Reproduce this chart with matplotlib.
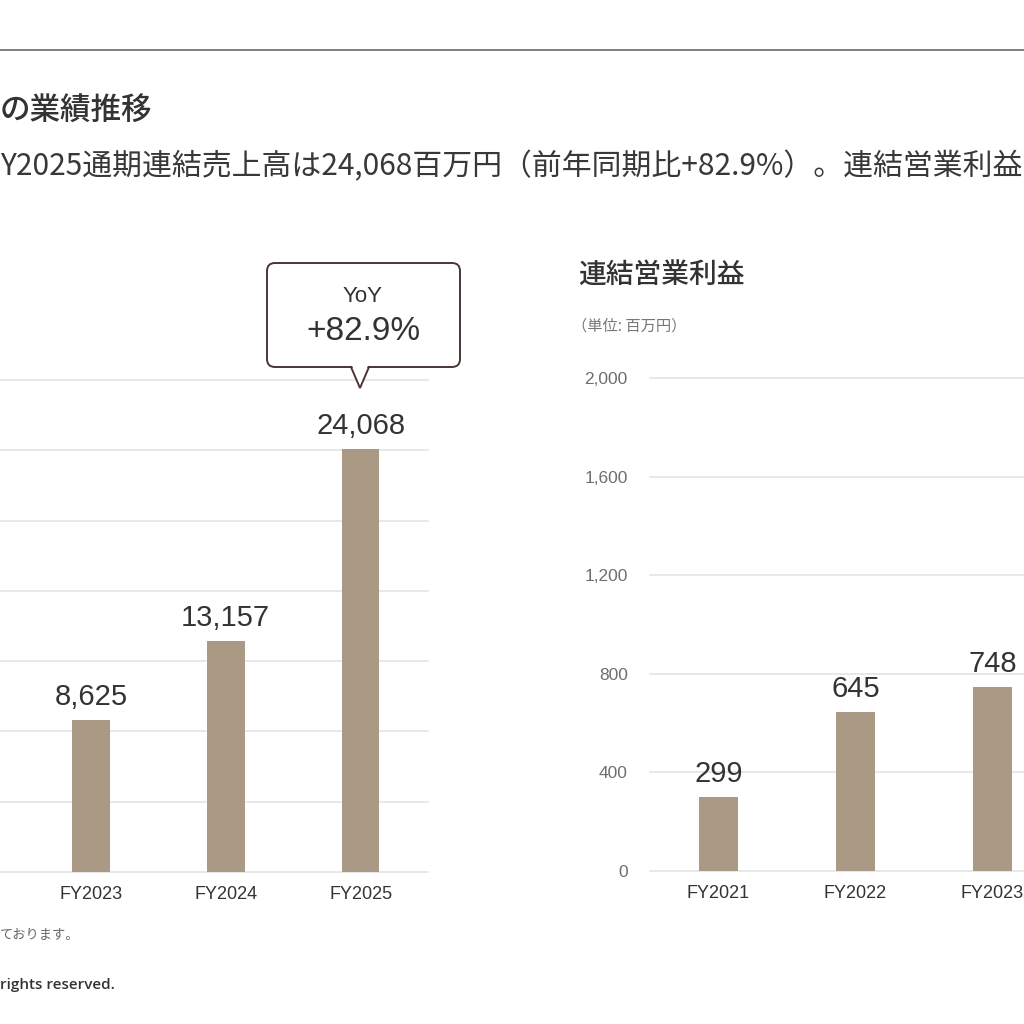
import matplotlib
matplotlib.use('Agg')
import matplotlib.pyplot as plt
from matplotlib.patches import FancyBboxPatch, Polygon

plt.rcParams['font.family'] = ['Liberation Sans', 'Noto Sans CJK JP', 'DejaVu Sans']
JP = ['Noto Sans CJK JP', 'DejaVu Sans']

W = H = 1024

# 連結売上高 (百万円) - only FY2023..FY2025 visible
sales_years = ['FY2023', 'FY2024', 'FY2025']
sales = [8625, 13157, 24068]
sales_ticks = [0, 4000, 8000, 12000, 16000, 20000, 24000, 28000]

# 連結営業利益 (百万円) - only FY2021..FY2023 visible
op_years = ['FY2021', 'FY2022', 'FY2023']
op_profit = [299, 645, 748]
op_ticks = [0, 400, 800, 1200, 1600, 2000]

yoy_label = 'YoY'
yoy_value = '+82.9%'

BAR = '#a99985'
GRID = '#e2e2e2'


def px_rect(x0, y0, x1, y1):
    # pixel box (top-left origin) -> figure fraction rect
    return [x0 / W, 1 - y1 / H, (x1 - x0) / W, (y1 - y0) / H]


def style_axes(ax, ticks, show_yticks):
    ax.set_ylim(ticks[0], ticks[-1])
    ax.set_yticks(ticks)
    ax.yaxis.set_major_formatter(lambda v, p: f'{int(v):,}')
    ax.grid(axis='y', color=GRID, lw=1.1, clip_on=False)
    ax.set_axisbelow(True)
    for s in ax.spines.values():
        s.set_visible(False)
    ax.tick_params(axis='both', length=0)
    ax.tick_params(axis='x', pad=10, labelsize=13, labelcolor='#333333')
    ax.tick_params(axis='y', pad=16, labelsize=12.5, labelcolor='#6e6e6e',
                   labelleft=show_yticks)
    ax.patch.set_alpha(0)


def label_bars(ax, xs, vals):
    for x, v in zip(xs, vals):
        ax.annotate(f'{v:,}', (x, v), xytext=(0, 6.5), textcoords='offset points',
                    ha='center', va='bottom', fontsize=21, color='#333333')


fig = plt.figure(figsize=(W / 100, H / 100), dpi=100)

# left chart: 連結売上高
ax1 = fig.add_axes(px_rect(0, 380, 428, 872))
x1 = list(range(len(sales_years)))
ax1.bar(x1, sales, width=0.28, color=BAR, zorder=2)
ax1.set_xticks(x1, sales_years)
ax1.set_xlim(-0.674, 2.5)
style_axes(ax1, sales_ticks, False)
label_bars(ax1, x1, sales)

# right chart: 連結営業利益
ax2 = fig.add_axes(px_rect(650, 378, 1024, 871))
x2 = list(range(len(op_years)))
ax2.bar(x2, op_profit, width=0.29, color=BAR, zorder=2)
ax2.set_xticks(x2, op_years)
ax2.set_xlim(-0.5, 2.23)
style_axes(ax2, op_ticks, True)
label_bars(ax2, x2, op_profit)

# overlay in pixel coords for slide decorations
ov = fig.add_axes([0, 0, 1, 1])
ov.set_xlim(0, W)
ov.set_ylim(H, 0)
ov.axis('off')
ov.patch.set_alpha(0)

ov.plot([0, W], [50, 50], color='#6a6a6a', lw=1.2)

ov.text(0, 110, 'の業績推移', family=JP, fontsize=22, fontweight='medium',
        color='#333333', ha='left', va='center')
ov.text(0, 167, 'Y2025通期連結売上高は24,068百万円（前年同期比+82.9%）。連結営業利益',
        family=JP, fontsize=21.5, color='#383838', ha='left', va='center')

ov.text(578, 275, '連結営業利益', family=JP, fontsize=20, fontweight='medium',
        color='#333333', ha='left', va='center')
ov.text(572, 326, '（単位: 百万円）', family=JP, fontsize=11,
        color='#777777', ha='left', va='center')

# YoY callout
EDGE = '#4d3535'
box = FancyBboxPatch((267, 263), 193, 104, boxstyle='round,pad=0,rounding_size=8',
                     fc='white', ec=EDGE, lw=1.4, zorder=3)
ov.add_patch(box)
ov.add_patch(Polygon([(352, 365.5), (360, 387), (368, 365.5)], closed=True,
                     fc='white', ec='none', zorder=4))
ov.plot([351, 360, 369], [367, 388, 367], color=EDGE, lw=1.4, zorder=5,
        solid_joinstyle='miter')
ov.text(363, 297, yoy_label, fontsize=16, color='#333333', ha='center', va='center', zorder=6)
ov.text(363, 331, yoy_value, fontsize=24, color='#333333', ha='center', va='center', zorder=6)

# footer
ov.text(0, 936, 'ております。', family=JP, fontsize=9.5, color='#666666',
        ha='left', va='center')
ov.text(0, 985, 'rights reserved.', family=['Open Sans', 'DejaVu Sans'], fontsize=11,
        fontweight='semibold', color='#333333', ha='left', va='center')

fig.savefig('out.png', dpi=100)
